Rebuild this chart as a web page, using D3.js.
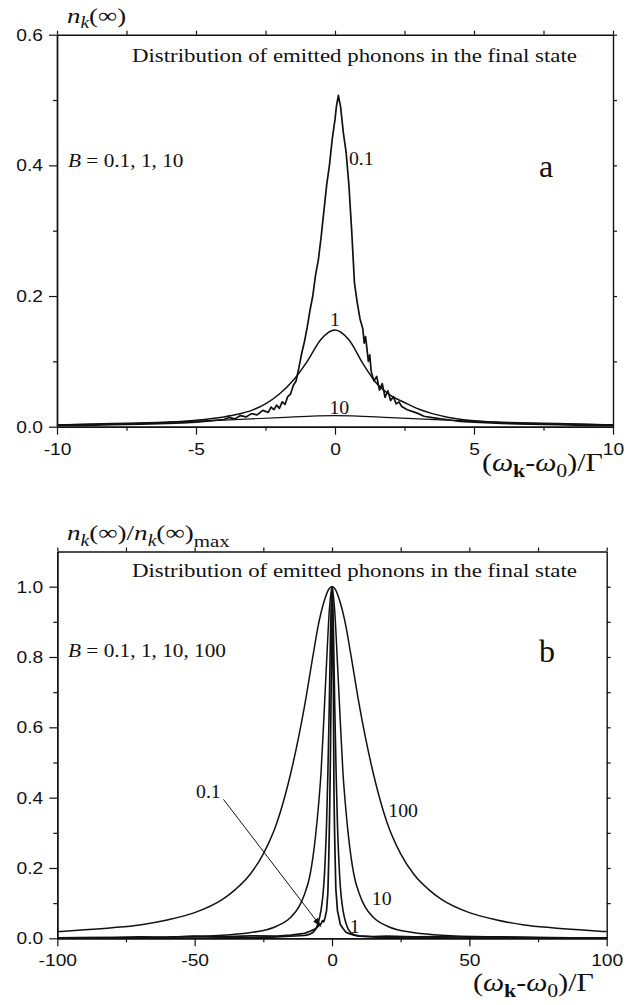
<!DOCTYPE html>
<html>
<head>
<meta charset="utf-8">
<script src="https://cdn.jsdelivr.net/npm/d3@7"></script>
<style>
  html, body { margin: 0; padding: 0; background: #fff; }
  svg { display: block; }
  .tick text { font-family: "Liberation Sans", Arial, sans-serif; font-size: 17px; fill: #111; }
  .serif { font-family: "Liberation Serif", "Times New Roman", serif; fill: #111; }
</style>
</head>
<body>
<div id="vis"></div>
<script>
// DATA — panel a (B = 0.1, 1, 10)
let xA01 = [-10, -9, -8, -7, -6, -5.5, -5, -4.5, -4, -3.8, -3.6, -3.4, -3.2, -3.0, -2.8, -2.6, -2.4, -2.3, -2.2, -2.1, -2.0, -1.9, -1.8, -1.7, -1.6, -1.5, -1.4, -1.3, -1.2, -1.1, -1.0, -0.9, -0.8, -0.7, -0.6, -0.5, -0.4, -0.3, -0.2, -0.1, 0, 0.05, 0.12, 0.2, 0.3, 0.4, 0.5, 0.6, 0.7, 0.8, 0.9, 1.0, 1.05, 1.1, 1.2, 1.25, 1.3, 1.4, 1.5, 1.6, 1.7, 1.8, 1.9, 2.0, 2.1, 2.2, 2.3, 2.4, 2.6, 2.8, 3.0, 3.2, 3.5, 4, 4.5, 5, 6, 7, 8, 9, 10];
let yA01 = [0.002, 0.002, 0.003, 0.004, 0.005, 0.006, 0.007, 0.009, 0.011, 0.014, 0.012, 0.017, 0.015, 0.02, 0.018, 0.025, 0.022, 0.03, 0.026, 0.033, 0.028, 0.038, 0.034, 0.046, 0.05, 0.063, 0.07, 0.09, 0.112, 0.13, 0.152, 0.178, 0.2, 0.232, 0.255, 0.29, 0.33, 0.37, 0.4, 0.44, 0.47, 0.49, 0.507, 0.49, 0.45, 0.42, 0.37, 0.3, 0.22, 0.19, 0.165, 0.15, 0.128, 0.138, 0.1, 0.11, 0.085, 0.07, 0.077, 0.056, 0.066, 0.045, 0.055, 0.04, 0.046, 0.035, 0.038, 0.031, 0.026, 0.023, 0.02, 0.016, 0.014, 0.011, 0.008, 0.007, 0.005, 0.004, 0.003, 0.002, 0.002];

let xA1 = [-10, -8, -6, -5, -4, -3.5, -3, -2.5, -2, -1.5, -1, -0.5, 0, 0.5, 1, 1.5, 2, 2.5, 3, 3.5, 4, 5, 6, 8, 10];
let yA1 = [0.0026, 0.004, 0.007, 0.01, 0.015, 0.019, 0.025, 0.035, 0.05, 0.071, 0.1, 0.134, 0.148, 0.133, 0.097, 0.066, 0.048, 0.037, 0.027, 0.02, 0.015, 0.009, 0.006, 0.004, 0.0026];

let xA10 = [-10, -8, -6, -4, -2, 0, 2, 4, 6, 8, 10];
let yA10 = [0.003, 0.005, 0.007, 0.01, 0.014, 0.017, 0.014, 0.01, 0.007, 0.005, 0.003];

// DATA — panel b (normalised, B = 0.1, 1, 10, 100)
let xB01 = [-100, -80, -70, -60, -50, -40, -30, -20, -15, -10, -8, -6, -5, -4, -3.5, -3, -2.5, -2, -1.5, -1.2, -1, -0.8, -0.6, -0.4, -0.2, 0, 0.12, 0.3, 0.5, 0.7, 0.9, 1.1, 1.4, 1.7, 2, 2.5, 3, 4, 5, 6, 8, 10, 15, 20, 30, 40, 50, 60, 75, 80, 100];
let yB01 = [0.001, 0.002, 0.004, 0.003, 0.006, 0.004, 0.007, 0.006, 0.009, 0.014, 0.02, 0.027, 0.034, 0.041, 0.05, 0.047, 0.06, 0.078, 0.13, 0.22, 0.3, 0.39, 0.5, 0.65, 0.78, 0.92, 1.0, 0.88, 0.72, 0.43, 0.32, 0.24, 0.14, 0.11, 0.078, 0.06, 0.04, 0.028, 0.018, 0.014, 0.009, 0.007, 0.005, 0.006, 0.004, 0.005, 0.003, 0.004, 0.002, 0.001, 0.001];

let xB1 = [-100, -60, -40, -30, -20, -15, -10, -8, -6, -5, -4, -3, -2.5, -2, -1.5, -1, -0.5, 0, 0.5, 1, 1.5, 2, 2.5, 3, 4, 5, 6, 8, 10, 15, 20, 30, 40, 60, 100];
let yB1 = [0.0002, 0.0005, 0.0012, 0.002, 0.004, 0.006, 0.008, 0.012, 0.025, 0.045, 0.08, 0.15, 0.22, 0.32, 0.47, 0.66, 0.89, 1.0, 0.89, 0.66, 0.47, 0.32, 0.22, 0.15, 0.08, 0.045, 0.025, 0.01, 0.006, 0.004, 0.003, 0.002, 0.0012, 0.0005, 0.0002];

let xB10 = [-100, -80, -60, -40, -30, -25, -20, -15, -12, -10, -8, -6, -5, -4, -3, -2, -1, 0, 1, 2, 3, 4, 5, 6, 8, 10, 12, 15, 20, 25, 30, 40, 60, 80, 100];
let yB10 = [0.0015, 0.0023, 0.004, 0.009, 0.016, 0.022, 0.035, 0.06, 0.09, 0.125, 0.18, 0.29, 0.37, 0.47, 0.62, 0.78, 0.93, 1.0, 0.93, 0.78, 0.62, 0.47, 0.37, 0.29, 0.18, 0.125, 0.09, 0.06, 0.035, 0.022, 0.016, 0.009, 0.004, 0.0023, 0.0015];

let xB100 = [-100, -90, -80, -70, -60, -50, -40, -35, -30, -25, -20, -15, -10, -7, -5, -3, -1, 0, 1, 3, 5, 7, 10, 15, 20, 25, 30, 35, 40, 50, 60, 70, 80, 90, 100];
let yB100 = [0.019, 0.024, 0.03, 0.038, 0.052, 0.073, 0.11, 0.14, 0.18, 0.24, 0.33, 0.47, 0.66, 0.8, 0.89, 0.955, 0.995, 1.0, 0.995, 0.955, 0.89, 0.8, 0.66, 0.47, 0.33, 0.24, 0.18, 0.14, 0.11, 0.073, 0.052, 0.038, 0.03, 0.024, 0.019];

// TICKS
let ticksAx = [-10, -5, 0, 5, 10], minorAx = [-7.5, -2.5, 2.5, 7.5];
let ticksAy = [0.0, 0.2, 0.4, 0.6], minorAy = [0.1, 0.3, 0.5];
let ticksBx = [-100, -50, 0, 50, 100], minorBx = [-75, -25, 25, 75];
let ticksBy = [0.0, 0.2, 0.4, 0.6, 0.8, 1.0], minorBy = [0.1, 0.3, 0.5, 0.7, 0.9];

let W = 644, H = 1005;
let svg = d3.select('#vis').append('svg').attr('width', W).attr('height', H);

// stretch text horizontally (the original figure is wider than tall)
let stretch = (sel, k) => sel.each(function () {
	let w = this.getComputedTextLength();
	d3.select(this).attr('textLength', w * k).attr('lengthAdjust', 'spacingAndGlyphs');
});

let hyphen = f => d => f(d).replace('\u2212', '-');

let panel = opt => {
	let x = d3.scaleLinear().domain(opt.xd).range([opt.left, opt.right]),
		y = d3.scaleLinear().domain(opt.yd).range([opt.bottom, opt.top]);

	let g = svg.append('g');

	// frame + ticks
	g.append('g')
		.attr('transform', `translate(0,${opt.bottom})`)
		.call(d3.axisBottom(x).tickValues(opt.tx).tickSize(8).tickSizeOuter(0).tickPadding(8).tickFormat(hyphen(d3.format('d'))));
	g.append('g')
		.attr('transform', `translate(0,${opt.bottom})`)
		.call(d3.axisBottom(x).tickValues(opt.mx).tickSize(4).tickSizeOuter(0).tickFormat(''));
	g.append('g')
		.attr('transform', `translate(${opt.left},0)`)
		.call(d3.axisLeft(y).tickValues(opt.ty).tickSize(8).tickSizeOuter(0).tickPadding(6).tickFormat(d3.format('.1f')));
	g.append('g')
		.attr('transform', `translate(${opt.left},0)`)
		.call(d3.axisLeft(y).tickValues(opt.my).tickSize(4).tickSizeOuter(0).tickFormat(''));
	g.append('g')
		.attr('transform', `translate(0,${opt.top})`)
		.call(d3.axisTop(x).tickValues(opt.tx.concat(opt.mx)).tickSize(4).tickSizeOuter(0).tickFormat(''));
	g.append('g')
		.attr('transform', `translate(${opt.right},0)`)
		.call(d3.axisRight(y).tickValues(opt.ty.concat(opt.my).filter(v => v > 0)).tickSize(4).tickSizeOuter(0).tickFormat(''));
	g.selectAll('.domain').attr('stroke', '#111').attr('stroke-width', 1.4);
	g.selectAll('.tick line').attr('stroke', '#111').attr('stroke-width', 1.2);
	stretch(g.selectAll('.tick text'), 1.13);

	// curves
	opt.series.forEach(s => {
		let pts = s.xs.map((v, i) => [v, s.ys[i]]);
		g.append('path')
			.datum(pts)
			.attr('fill', 'none')
			.attr('stroke', '#111')
			.attr('stroke-width', s.w)
			.attr('stroke-linejoin', 'round')
			.attr('d', d3.line().x(d => x(d[0])).y(d => y(d[1])).curve(s.smooth ? d3.curveMonotoneX : d3.curveLinear));
	});

	// title
	g.append('text').attr('class', 'serif')
		.attr('x', 132).attr('y', opt.titleY)
		.attr('font-size', 18.5)
		.attr('textLength', 445).attr('lengthAdjust', 'spacingAndGlyphs')
		.text('Distribution of emitted phonons in the final state');

	// y label
	let yl = g.append('text').attr('class', 'serif')
		.attr('x', 67).attr('y', opt.ylabY).attr('font-size', 22);
	opt.ylab(yl);

	// x label
	let xl = g.append('text').attr('class', 'serif')
		.attr('x', opt.xlabX).attr('y', opt.xlabY).attr('font-size', 26);
	xl.append('tspan').text('(');
	xl.append('tspan').attr('font-style', 'italic').text('ω');
	xl.append('tspan').attr('font-weight', 'bold').attr('font-size', 19).attr('dy', 6).text('k');
	xl.append('tspan').attr('dy', -6).text('-');
	xl.append('tspan').attr('font-style', 'italic').text('ω');
	xl.append('tspan').attr('font-size', 19).attr('dy', 6).text('0');
	xl.append('tspan').attr('dy', -6).text(')/Γ');
	stretch(xl, 1.15);

	// B = ...
	let bt = g.append('text').attr('class', 'serif')
		.attr('x', 68).attr('y', opt.bY).attr('font-size', 19);
	bt.append('tspan').attr('font-style', 'italic').text('B');
	bt.append('tspan').text(' = ' + opt.bText);
	stretch(bt, 1.12);

	// panel letter
	g.append('text').attr('class', 'serif')
		.attr('x', 539).attr('y', opt.letterY).attr('font-size', 32)
		.text(opt.letter);

	// curve labels
	opt.labels.forEach(l => {
		let t = g.append('text').attr('class', 'serif')
			.attr('x', x(l.x)).attr('y', y(l.y))
			.attr('font-size', 18)
			.attr('text-anchor', l.anchor || 'start')
			.text(l.t);
		stretch(t, 1.1);
	});

	return { x, y, g };
};

// PANEL A
panel({
	xd: [-10, 10], yd: [0, 0.6],
	left: 57, right: 613, top: 34.7, bottom: 426.7,
	tx: ticksAx, mx: minorAx, ty: ticksAy, my: minorAy,
	series: [
		{ xs: xA01, ys: yA01, w: 1.7, smooth: false },
		{ xs: xA1, ys: yA1, w: 1.5, smooth: true },
		{ xs: xA10, ys: yA10, w: 1.2, smooth: true }
	],
	titleY: 62, ylabY: 22.5,
	ylab: t => {
		t.append('tspan').attr('font-style', 'italic').text('n');
		t.append('tspan').attr('font-style', 'italic').attr('font-size', 16).attr('dy', 5.5).text('k');
		t.append('tspan').attr('dy', -5.5).text('(∞)');
		stretch(t, 1.22);
	},
	xlabX: 482, xlabY: 471,
	bY: 167, bText: '0.1, 1, 10',
	letterY: 177, letter: 'a',
	labels: [
		{ x: 0.5, y: 0.4, t: '0.1' },
		{ x: 0, y: 0.154, t: '1', anchor: 'middle' },
		{ x: -0.2, y: 0.019, t: '10' }
	]
});

// PANEL B
let pb = panel({
	xd: [-100, 100], yd: [0, 1.1],
	left: 57.3, right: 606.7, top: 551.5, bottom: 938.3,
	tx: ticksBx, mx: minorBx, ty: ticksBy, my: minorBy,
	series: [
		{ xs: xB01, ys: yB01, w: 1.7, smooth: false },
		{ xs: xB1, ys: yB1, w: 1.6, smooth: true },
		{ xs: xB10, ys: yB10, w: 1.5, smooth: true },
		{ xs: xB100, ys: yB100, w: 1.5, smooth: true }
	],
	titleY: 577, ylabY: 540,
	ylab: t => {
		t.append('tspan').attr('font-style', 'italic').text('n');
		t.append('tspan').attr('font-style', 'italic').attr('font-size', 16).attr('dy', 5.5).text('k');
		t.append('tspan').attr('dy', -5.5).text('(∞)/');
		t.append('tspan').attr('font-style', 'italic').text('n');
		t.append('tspan').attr('font-style', 'italic').attr('font-size', 16).attr('dy', 5.5).text('k');
		t.append('tspan').attr('dy', -5.5).text('(∞)');
		t.append('tspan').attr('font-size', 17).attr('dy', 6.5).text('max');
		stretch(t, 1.23);
	},
	xlabX: 473, xlabY: 991,
	bY: 657, bText: '0.1, 1, 10, 100',
	letterY: 662, letter: 'b',
	labels: [
		{ x: -40.5, y: 0.40, t: '0.1', anchor: 'end' },
		{ x: 6.5, y: 0.014, t: '1' },
		{ x: 14.5, y: 0.095, t: '10' },
		{ x: 20.5, y: 0.345, t: '100' }
	]
});

// arrow for the 0.1 label in panel b
let ax0 = pb.x(-39.5), ay0 = pb.y(0.395), ax1 = pb.x(-4), ay1 = pb.y(0.033);
pb.g.append('line')
	.attr('x1', ax0).attr('y1', ay0).attr('x2', ax1).attr('y2', ay1)
	.attr('stroke', '#111').attr('stroke-width', 1);
let ang = Math.atan2(ay1 - ay0, ax1 - ax0);
pb.g.append('path')
	.attr('d', `M0,0 L-9,-3 L-9,3 Z`)
	.attr('fill', '#111')
	.attr('transform', `translate(${ax1},${ay1}) rotate(${ang * 180 / Math.PI})`);
</script>
</body>
</html>
